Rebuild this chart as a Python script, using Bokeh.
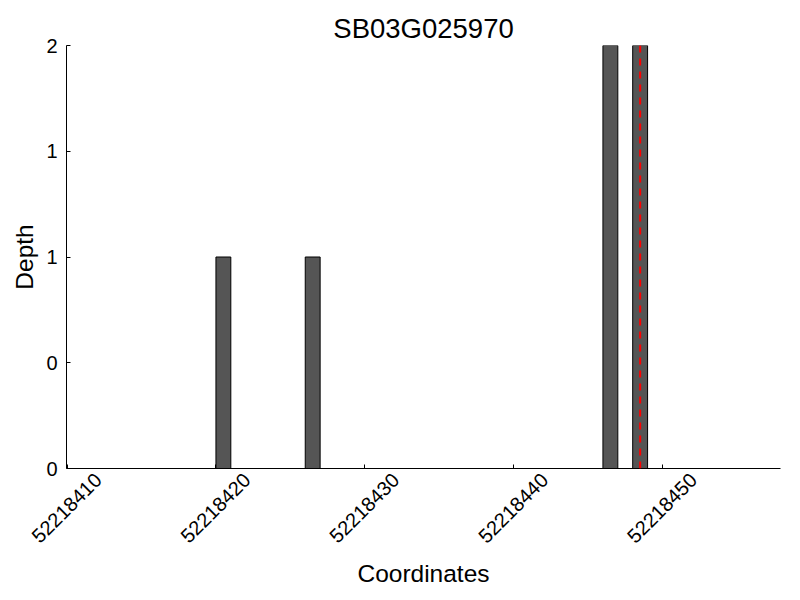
import math
from bokeh.plotting import figure
from bokeh.models import (Range1d, FixedTicker, CustomJSTickFormatter, Span,
                          ColumnDataSource, LinearAxis)
from bokeh.embed import file_html
from bokeh.resources import INLINE

gene = "SB03G025970"
positions = [52218420, 52218426, 52218446, 52218448]
depths = [1, 1, 2, 2]
variant_pos = 52218448.5
x_ticks = [52218410, 52218420, 52218430, 52218440, 52218450]
y_ticks = [0, 0.5, 1, 1.5, 2]
x_start, x_end = 52218409.96, 52218457.93
y_start, y_end = 0, 2
bar_width = 1

FONT = "Liberation Sans"
FRAME_W = 800 - 66 - 20
LABEL_SHIFT_PX = 31  # rotated labels are centred on ticks, not ended on them

src = ColumnDataSource(dict(x=[pos + bar_width / 2 for pos in positions], top=depths))

p = figure(width=800, height=600, output_backend="svg", toolbar_location=None,
           x_range=Range1d(x_start, x_end), y_range=Range1d(y_start, y_end),
           min_border_left=66, min_border_right=20, min_border_top=45, min_border_bottom=132)

shift = LABEL_SHIFT_PX * (x_end - x_start) / FRAME_W
p.extra_x_ranges = {"labels": Range1d(x_start - shift, x_end - shift)}

p.title.text = gene
p.title.align = "center"
p.title.text_font = FONT
p.title.text_font_size = "27.5px"
p.title.text_font_style = "normal"
p.title.text_color = "black"
p.title.standoff = 4

p.vbar(x="x", top="top", bottom=0, width=bar_width, source=src,
       fill_color="#555555", line_color="black", line_width=1)

p.add_layout(Span(location=variant_pos, dimension="height", line_color="red",
                  line_width=2, line_dash="7 6"))

p.xaxis.ticker = FixedTicker(ticks=x_ticks)
p.yaxis.ticker = FixedTicker(ticks=y_ticks)
p.xaxis.formatter = CustomJSTickFormatter(code="return ''")
p.xaxis.major_label_text_font_size = "0px"
p.xaxis.major_label_standoff = 0
p.yaxis.formatter = CustomJSTickFormatter(code="return Math.trunc(tick).toString()")

for ax in (p.xaxis, p.yaxis):
    ax.major_tick_in = 4
    ax.major_tick_out = 0
    ax.minor_tick_line_color = None
    ax.axis_line_color = "black"
    ax.major_tick_line_color = "black"
    ax.axis_label_text_font = FONT
    ax.axis_label_text_font_size = "24.5px"
    ax.axis_label_text_font_style = "normal"
    ax.axis_label_text_color = "black"

p.yaxis.major_label_text_font = FONT
p.yaxis.major_label_text_font_size = "20px"
p.yaxis.major_label_text_color = "black"
p.yaxis.major_label_standoff = 9
p.yaxis.axis_label = "Depth"

# tick-label axis: same ticks, labels rotated 45 degrees and centred on the ticks
lab_axis = LinearAxis(x_range_name="labels", ticker=FixedTicker(ticks=x_ticks),
                      formatter=CustomJSTickFormatter(code="return Math.trunc(tick).toString()"),
                      axis_line_color=None, major_tick_line_color=None,
                      minor_tick_line_color=None, major_tick_in=0, major_tick_out=0,
                      major_label_orientation=math.pi / 4, major_label_standoff=8,
                      major_label_text_font=FONT, major_label_text_font_size="20px",
                      major_label_text_color="black",
                      axis_label="Coordinates", axis_label_standoff=8,
                      axis_label_text_font=FONT, axis_label_text_font_size="24.5px",
                      axis_label_text_font_style="normal", axis_label_text_color="black")
p.add_layout(lab_axis, "below")

p.grid.visible = False
p.outline_line_color = None

open("out.html", "w").write(file_html(p, INLINE))
